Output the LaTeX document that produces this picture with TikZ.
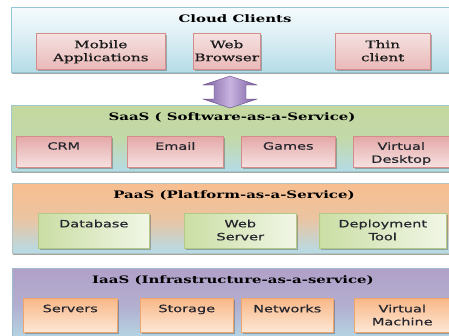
\documentclass[tikz,border=0pt]{standalone}
\usepackage{fontspec}
\setmainfont{DejaVu Serif}[FakeStretch=1.45]
\newfontfamily\clientserif{DejaVu Serif}[FakeStretch=1.45, FakeBold=0.5]
\newfontfamily\boxsans{DejaVu Sans}[FakeStretch=1.45, FakeBold=0.6]
\usetikzlibrary{shadows,calc}

\definecolor{skyend}{HTML}{B5DCE7}
\definecolor{cloudtop}{HTML}{F6FBFD}
\definecolor{cloudline}{HTML}{95C6D5}
\definecolor{saastop}{HTML}{C4D89E}
\definecolor{paastop}{HTML}{F8BE90}
\definecolor{iaastop}{HTML}{B1A0C8}
\definecolor{pinklight}{HTML}{F5E2E1}
\definecolor{pinkdark}{HTML}{E4A8A7}
\definecolor{pinkline}{HTML}{D38C8A}
\definecolor{greenlight}{HTML}{F1F6E6}
\definecolor{greendark}{HTML}{CADEA4}
\definecolor{greenline}{HTML}{B2CA86}
\definecolor{peachlight}{HTML}{FDE7D6}
\definecolor{peachdark}{HTML}{F8B887}
\definecolor{peachline}{HTML}{EEA56E}
\definecolor{arrowdark}{HTML}{7B5DA0}
\definecolor{arrowlight}{HTML}{C7B3DF}
\definecolor{textgray}{HTML}{26262E}

\tikzset{
  layer/.style={anchor=north west, inner sep=0, minimum width=445,
    draw=cloudline, line width=0.5pt,
    drop shadow={shadow xshift=0.8pt, shadow yshift=-1.6pt, opacity=0.5, fill=black!70}},
  tier/.style={anchor=north west, inner sep=0, line width=0.5pt,
    drop shadow={shadow xshift=1.8pt, shadow yshift=-1.8pt, opacity=0.4, fill=black!70}},
  clientbox/.style={tier, draw=pinkline, top color=pinklight, bottom color=pinkdark!70!pinklight},
  saasbox/.style={tier, draw=pinkline, top color=pinkdark, bottom color=pinklight},
  paasbox/.style={tier, draw=greenline, left color=greendark, right color=greenlight},
  iaasbox/.style={tier, draw=peachline, top color=peachdark, bottom color=peachlight},
  title/.style={anchor=base, inner sep=0, text=black,
    font=\fontsize{10.3}{13}\selectfont\bfseries},
  clienttext/.style={anchor=north, inner sep=0, align=center, text=black!90,
    font=\clientserif\fontsize{10.5}{13}\selectfont},
  tiertext/.style={anchor=north, inner sep=0, align=center, text=textgray,
    font=\boxsans\fontsize{10}{13}\selectfont},
}

\begin{document}
\begin{tikzpicture}[x=1pt,y=-1pt]
\useasboundingbox (0,0) rectangle (449,335);
\clip (0,0) rectangle (449,335);
\fill[white] (0,0) rectangle (449,335);

% ---------- Cloud clients ----------
\node[layer, minimum height=65, top color=cloudtop, bottom color=skyend,
      middle color=cloudtop!55!skyend] (clients) at (11,7) {};
\node[title] (clients-t) at (235,22) {Cloud Clients};
\node[clientbox, minimum width=129, minimum height=36] (mobile) at (36,33) {};
\node[clientbox, minimum width=67, minimum height=36] (browser) at (193,33) {};
\node[clientbox, minimum width=95, minimum height=36] (thin) at (335,33) {};
\node[clienttext] (mobile-t) at ($(mobile.north)+(0,7)$) {Mobile\\Applications};
\node[clienttext] (browser-t) at ($(browser.north)+(0,7)$) {Web\\Browser};
\node[clienttext] (thin-t) at ($(thin.north)+(0,7)$) {Thin\\client};

% ---------- SaaS ----------
\node[layer, minimum height=66, draw=cloudline!80!saastop, top color=saastop,
      bottom color=skyend, middle color=saastop!85!skyend] (saas) at (11,105) {};
\node[title] (saas-t) at (232,120) {SaaS ( Software-as-a-Service)};
\node[saasbox, minimum width=95, minimum height=31] (crm) at (16,136) {};
\node[saasbox, minimum width=96, minimum height=31] (email) at (127,136) {};
\node[saasbox, minimum width=94, minimum height=31] (games) at (241,136) {};
\node[saasbox, minimum width=96, minimum height=31] (vdesk) at (353,136) {};
\node[tiertext] (crm-t) at ($(crm.north)+(0,6)$) {CRM};
\node[tiertext] (email-t) at ($(email.north)+(0,6)$) {Email};
\node[tiertext] (games-t) at ($(games.north)+(0,6)$) {Games};
\node[tiertext] (vdesk-t) at ($(vdesk.north)+(0,6)$) {Virtual\\Desktop};

% ---------- PaaS ----------
\node[layer, minimum height=70, draw=cloudline!70!paastop, top color=paastop,
      bottom color=skyend, middle color=paastop!80!skyend] (paas) at (12,183) {};
\node[title] (paas-t) at (234,198) {PaaS (Platform-as-a-Service)};
\node[paasbox, minimum width=111, minimum height=35] (db) at (38,213) {};
\node[paasbox, minimum width=112, minimum height=35] (websrv) at (184,213) {};
\node[paasbox, minimum width=127, minimum height=35] (deploy) at (319,213) {};
\node[tiertext] (db-t) at ($(db.north)+(0,6.5)$) {Database};
\node[tiertext] (websrv-t) at ($(websrv.north)+(0,6.5)$) {Web\\Server};
\node[tiertext] (deploy-t) at ($(deploy.north)+(0,6.5)$) {Deployment\\Tool};

% ---------- IaaS ----------
\node[layer, minimum height=75, draw=cloudline!70!iaastop, top color=iaastop,
      bottom color=skyend, middle color=iaastop!75!skyend] (iaas) at (12,268) {};
\node[title] (iaas-t) at (233,283) {IaaS (Infrastructure-as-a-service)};
\node[iaasbox, minimum width=94, minimum height=34] (servers) at (23,298) {};
\node[iaasbox, minimum width=93, minimum height=34] (storage) at (140,298) {};
\node[iaasbox, minimum width=92, minimum height=34] (networks) at (241,298) {};
\node[iaasbox, minimum width=96, minimum height=34] (vm) at (354,298) {};
\node[tiertext] (servers-t) at ($(servers.north)+(0,6.5)$) {Servers};
\node[tiertext] (storage-t) at ($(storage.north)+(0,6.5)$) {Storage};
\node[tiertext] (networks-t) at ($(networks.north)+(0,6.5)$) {Networks};
\node[tiertext] (vm-t) at ($(vm.north)+(0,6.5)$) {Virtual\\Machine};

% ---------- two-way arrow between clients and SaaS ----------
\coordinate (link) at (230,92);
\shade[left color=arrowdark, right color=arrowdark, middle color=arrowlight,
       draw=arrowdark!80!black, line width=0.4pt, line join=miter]
  (link) ++(0,-16) -- ++(27,9) -- ++(-11,0) -- ++(0,14) -- ++(11,0)
  -- ++(-27,9) -- ++(-27,-9) -- ++(11,0) -- ++(0,-14) -- ++(-11,0) -- cycle;
\end{tikzpicture}
\end{document}
